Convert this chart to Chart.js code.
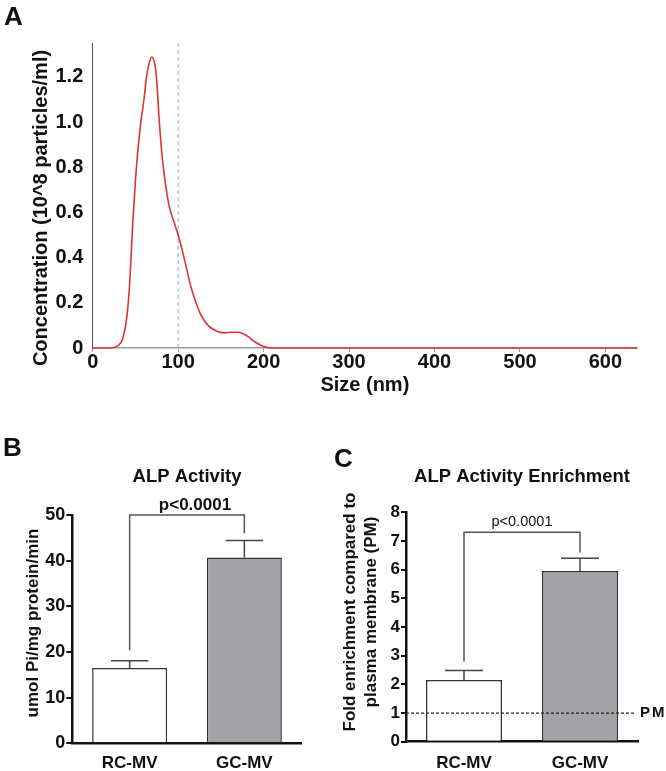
<!DOCTYPE html>
<html>
<head>
<meta charset="utf-8">
<script src="https://cdn.jsdelivr.net/npm/chart.js@4.4.1/dist/chart.umd.min.js"></script>
<style>
  body { margin: 0; background: #fff; }
  #fig { position: relative; width: 666px; height: 771px; overflow: hidden; background: #fff;
         font-family: "Liberation Sans", Arial, sans-serif; color: #111; }
  canvas { position: absolute; }
  .panel { position: absolute; font-weight: bold; font-size: 26px; line-height: 1; }
  .ytitle { position: absolute; font-weight: bold; white-space: nowrap; text-align: center;
            transform: translate(-50%, -50%) rotate(-90deg); }
</style>
</head>
<body>
<div id="fig">
  <canvas id="chartA" width="666" height="410" style="left:0px;top:0px"></canvas>
  <canvas id="chartB" width="333" height="341" style="left:0px;top:430px"></canvas>
  <canvas id="chartC" width="333" height="341" style="left:333px;top:430px"></canvas>

  <div class="panel" style="left:4px;top:3px">A</div>
  <div class="panel" style="left:3px;top:434px">B</div>
  <div class="panel" style="left:334px;top:445px">C</div>

  <div class="ytitle" style="left:40px;top:208px;font-size:20px">Concentration (10^8 particles/ml)</div>
  <div class="ytitle" style="left:33px;top:623px;font-size:17px">umol Pi/mg protein/min</div>
  <div class="ytitle" style="left:360px;top:612px;font-size:17px;line-height:21px">Fold enrichment compared to<br>plasma membrane (PM)</div>
</div>

<script>
// ---- panel A: size distribution ----
const sizeNm = [0, 20, 25, 30, 35, 40, 43, 47, 50, 53, 56, 60, 63, 66, 69, 71, 73, 75, 78, 81, 84, 87, 90, 95,
                100, 105, 110, 115, 120, 125, 130, 135, 140, 147, 155, 163, 170, 176, 182, 188, 193, 200, 207,
                215, 300, 400, 500, 637];
const concA = [0, 0, 0.002, 0.012, 0.04, 0.14, 0.27, 0.56, 0.74, 0.88, 0.99, 1.1, 1.2, 1.26, 1.288, 1.28, 1.25, 1.18,
               1.0, 0.86, 0.76, 0.68, 0.62, 0.56, 0.5, 0.43, 0.35, 0.27, 0.21, 0.16, 0.125, 0.1, 0.085, 0.072,
               0.067, 0.07, 0.07, 0.063, 0.05, 0.032, 0.02, 0.007, 0.001, 0, 0, 0, 0, 0];
const sizeTicks = [0, 100, 200, 300, 400, 500, 600];
const concTicks = [0, 0.2, 0.4, 0.6, 0.8, 1.0, 1.2];
const markSize = 100;

// ---- panels B and C: bars ----
const groups = ['RC-MV', 'GC-MV'];
const alpMean = [16.5, 40.7];
const alpSem = [1.6, 3.7];
const alpTicks = [0, 10, 20, 30, 40, 50];
const alpBracket = [20.4, 46, 50];      // left leg end, right leg end, top
const enrichMean = [2.15, 5.95];
const enrichSem = [0.33, 0.45];
const enrichTicks = [0, 1, 2, 3, 4, 5, 6, 7, 8];
const enrichBracket = [2.8, 6.6, 7.3];
const pmLevel = 1;
const pText = 'p<0.0001';

Chart.defaults.font.family = '"Liberation Sans", Arial, sans-serif';
Chart.defaults.color = '#111';

const fixedTicks = list => scale => { scale.ticks = list.map(v => ({ value: v })); };

// dashed vertical marker at 100 nm
const markerLine = {
  id: 'markerLine',
  beforeDatasetsDraw(chart) {
    const { ctx, chartArea, scales: { x } } = chart;
    const px = x.getPixelForValue(markSize);
    ctx.save();
    ctx.strokeStyle = '#a0a4c8';
    ctx.lineWidth = 1;
    ctx.setLineDash([4, 3]);
    ctx.beginPath();
    ctx.moveTo(px, chartArea.top);
    ctx.lineTo(px, chartArea.bottom);
    ctx.stroke();
    ctx.restore();
  }
};

// error bars, optional reference line, significance bracket
const barExtras = {
  id: 'barExtras',
  afterDatasetsDraw(chart, args, o) {
    const { ctx, scales: { x, y } } = chart;
    const bars = chart.getDatasetMeta(0).data;
    ctx.save();
    ctx.lineWidth = 1.5;
    ctx.strokeStyle = '#444';
    bars.forEach((bar, i) => {
      const top = y.getPixelForValue(o.mean[i] + o.sem[i]);
      const half = bar.width / 4;
      ctx.beginPath();
      ctx.moveTo(bar.x, bar.y);
      ctx.lineTo(bar.x, top);
      ctx.moveTo(bar.x - half, top);
      ctx.lineTo(bar.x + half, top);
      ctx.stroke();
    });

    if (o.refLine != null) {
      const py = y.getPixelForValue(o.refLine);
      ctx.save();
      ctx.strokeStyle = '#222';
      ctx.lineWidth = 1.2;
      ctx.setLineDash([3, 2]);
      ctx.beginPath();
      ctx.moveTo(x.left, py);
      ctx.lineTo(x.right - 3, py);
      ctx.stroke();
      ctx.restore();
      ctx.fillStyle = '#111';
      ctx.font = 'bold 15px "Liberation Sans", Arial, sans-serif';
      ctx.letterSpacing = '2px';
      ctx.textAlign = 'left';
      ctx.textBaseline = 'middle';
      ctx.fillText(o.refLabel, x.right + 2, py);
      ctx.letterSpacing = '0px';
    }

    const [leg0, leg1, topVal] = o.bracket;
    const yb = y.getPixelForValue(topVal);
    ctx.strokeStyle = '#555';
    ctx.beginPath();
    ctx.moveTo(bars[0].x, y.getPixelForValue(leg0));
    ctx.lineTo(bars[0].x, yb);
    ctx.lineTo(bars[1].x, yb);
    ctx.lineTo(bars[1].x, y.getPixelForValue(leg1));
    ctx.stroke();
    ctx.fillStyle = '#111';
    ctx.font = o.pFont;
    ctx.textAlign = 'center';
    ctx.textBaseline = 'middle';
    ctx.fillText(pText, (bars[0].x + bars[1].x) / 2 + o.pDx, yb - o.pDy);
    ctx.restore();
  }
};

new Chart(document.getElementById('chartA'), {
  type: 'line',
  data: {
    datasets: [{
      data: sizeNm.map((s, i) => ({ x: s, y: concA[i] })),
      borderColor: '#dc3338',
      borderWidth: 1.6,
      pointRadius: 0,
      cubicInterpolationMode: 'monotone',
      fill: false,
      clip: false
    }]
  },
  options: {
    responsive: false, animation: false, devicePixelRatio: 1,
    layout: { padding: { left: 0, top: 43, right: 29, bottom: 0 } },
    plugins: { legend: { display: false }, tooltip: { enabled: false } },
    scales: {
      x: {
        type: 'linear', min: 0, max: 637,
        afterBuildTicks: fixedTicks(sizeTicks),
        grid: { drawOnChartArea: false, tickLength: 4, color: '#999' },
        border: { color: '#999', width: 1.5 },
        ticks: { font: { size: 20, weight: 'bold', lineHeight: 1 }, padding: 0, maxRotation: 0 },
        title: { display: true, text: 'Size (nm)', font: { size: 20, weight: 'bold' }, padding: { top: 0, bottom: 12.5 } },
        afterFit: s => { s.height = 62; }
      },
      y: {
        min: 0, max: 1.35,
        afterBuildTicks: fixedTicks(concTicks),
        grid: { display: false, drawTicks: false },
        border: { color: '#555', width: 1, dash: [3, 3] },
        ticks: { font: { size: 20, weight: 'bold' }, padding: 9.4, callback: v => v === 0 ? '0' : v.toFixed(1) },
        afterFit: s => { s.width = 92.7; }
      }
    }
  },
  plugins: [markerLine]
});

function barChart(id, cfg) {
  return new Chart(document.getElementById(id), {
    type: 'bar',
    data: {
      labels: groups,
      datasets: [{
        data: cfg.mean,
        backgroundColor: ['#ffffff', '#a3a3a8'],
        borderColor: '#333',
        borderWidth: 1.5,
        barPercentage: cfg.barPct,
        categoryPercentage: 1
      }]
    },
    options: {
      responsive: false, animation: false, devicePixelRatio: 1,
      layout: { padding: { left: 0, top: 0, right: cfg.padRight, bottom: 0 } },
      plugins: {
        legend: { display: false }, tooltip: { enabled: false },
        title: {
          display: true, text: cfg.title, fullSize: false,
          font: { size: 18.5, weight: 'bold' },
          padding: { top: cfg.titleTop, bottom: cfg.titleBottom }
        },
        barExtras: {
          mean: cfg.mean, sem: cfg.sem, bracket: cfg.bracket,
          refLine: cfg.refLine, refLabel: 'PM',
          pFont: cfg.pFont, pDx: cfg.pDx, pDy: cfg.pDy
        }
      },
      scales: {
        x: {
          grid: { display: false, drawTicks: false },
          border: { color: '#111', width: 2.5 },
          ticks: { font: { size: 17, weight: 'bold', lineHeight: 1 }, padding: cfg.xPad },
          afterFit: s => { s.height = cfg.xHeight; }
        },
        y: {
          min: 0, max: cfg.max,
          afterBuildTicks: fixedTicks(cfg.ticks),
          grid: { drawOnChartArea: false, tickLength: cfg.tickLen, lineWidth: 2, color: '#111' },
          border: { color: '#111', width: 2.5 },
          ticks: { font: { size: cfg.tickFont, weight: 'bold' }, padding: 1 },
          afterFit: s => { s.width = cfg.yWidth; }
        }
      }
    },
    plugins: [barExtras]
  });
}

barChart('chartB', {
  title: 'ALP Activity', mean: alpMean, sem: alpSem, bracket: alpBracket, refLine: null,
  max: 50, ticks: alpTicks, tickFont: 18, tickLen: 6, yWidth: 72.3, padRight: 31.3,
  titleTop: 35.6, titleBottom: 27.2, xHeight: 27.7, xPad: 11.2, barPct: 0.654,
  pFont: 'bold 17px "Liberation Sans", Arial, sans-serif', pDx: 8, pDy: 10
});

barChart('chartC', {
  title: 'ALP Activity Enrichment', mean: enrichMean, sem: enrichSem, bracket: enrichBracket, refLine: pmLevel,
  max: 8, ticks: enrichTicks, tickFont: 17, tickLen: 5, yWidth: 73, padRight: 28,
  titleTop: 35.9, titleBottom: 24.2, xHeight: 29.3, xPad: 13.1, barPct: 0.655,
  pFont: '14.5px "Liberation Sans", Arial, sans-serif', pDx: 0, pDy: 10.6
});
</script>
</body>
</html>
